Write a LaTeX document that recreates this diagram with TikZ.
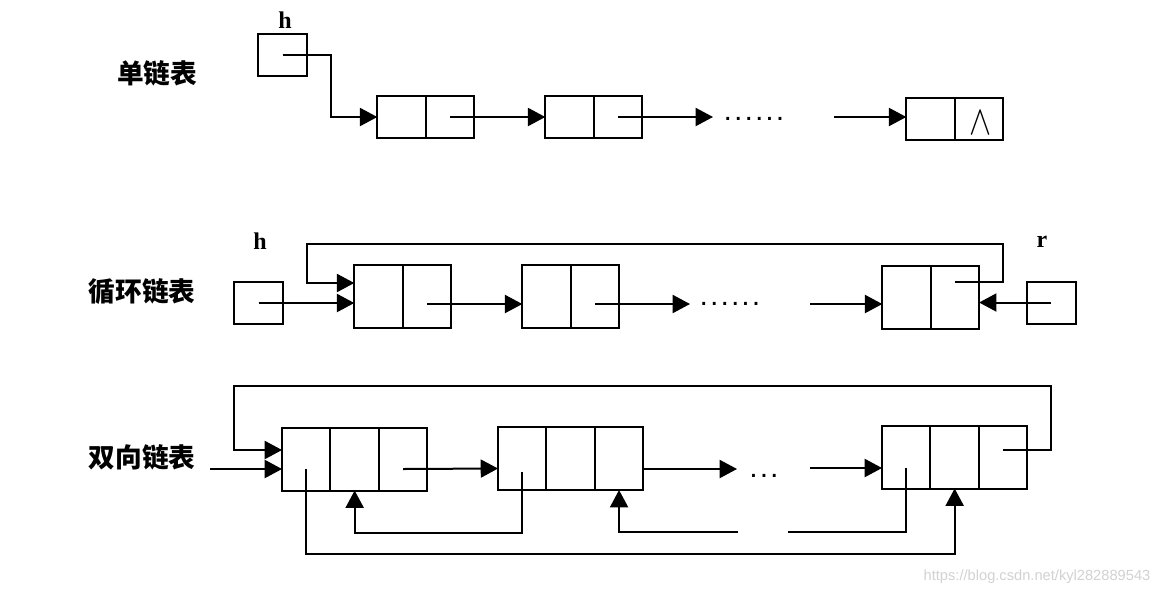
\documentclass[tikz,border=0pt]{standalone}
\usepackage{fontspec}
\newfontfamily\cjk{Noto Sans CJK SC}
\newfontfamily\namefont{Liberation Serif}
\newfontfamily\dotfont{DejaVu Sans Mono}
\newfontfamily\wmfont{Liberation Sans}
\usetikzlibrary{positioning,calc,arrows.meta}

\tikzset{every picture/.style={line width=1.5pt},
  cell/.style={draw, rectangle, inner sep=0pt, outer sep=0pt, minimum width=36.3pt, minimum height=31.5pt},
  tcell/.style={cell, minimum height=47.25pt},
  hbox/.style={cell, minimum width=36.75pt},
  ptr/.style={-{Triangle[length=13pt,width=13.5pt]}},
  title/.style={font=\cjk\bfseries\fontsize{20}{24}\selectfont, inner sep=0pt},
  ptrname/.style={font=\namefont\bfseries\fontsize{18}{20}\selectfont, inner sep=0pt},
  ellip/.style={font=\dotfont\bfseries\fontsize{13}{14}\selectfont, inner sep=0pt},
}

\begin{document}
\begin{tikzpicture}[x=0.75pt,y=0.75pt,yscale=-1,xscale=1]
\path[use as bounding box, fill=white] (0,0) rectangle (1170,594);

% Text Node
\node[title] (lbl1) at (157,73) {单链表};
\node[title] (lbl2) at (142,292) {循环链表};
\node[title] (lbl3) at (142,457) {双向链表};

%Row 1: single list
\node[ptrname] (hname1) at (285,20) {h};
\node[hbox] (h1) at (282.5,54.5) {};
\node[cell] (s1a) at (401.5,117) {};
\node[cell, right=0pt of s1a] (s1b) {};
\node[cell] (s2a) at (569.5,117) {};
\node[cell, right=0pt of s2a] (s2b) {};
\node[cell] (s3a) at (930.5,118.5) {};
\node[cell, right=0pt of s3a] (s3b) {};
\node[font=\fontsize{24.88}{26}\selectfont, inner sep=0pt] (nil) at ($(s3b.center)+(2,4)$) {\scalebox{1}[1.25]{$\wedge$}};
\node[ellip] (el1) at (754,119) {......};
\coordinate (g1a) at (713,117);
\coordinate (g1b) at (834,117);

\draw[ptr] (h1.center) -- ++(48.5,0) |- (s1a.west);
\draw[ptr] (s1b.center) -- (s2a.west);
\draw[ptr] (s2b.center) -- (g1a);
\draw[ptr] (g1b) -- (g1b -| s3a.west);

%Row 2: circular list
\node[ptrname] (hname2) at (260,241) {h};
\node[hbox] (h2) at (258.5,303) {};
\node[ptrname] (rname2) at (1042,242) {r};
\node[hbox] (r2) at (1051,302.5) {};
\node[tcell] (c1a) at (378.5,296.5) {};
\node[tcell, right=0pt of c1a] (c1b) {};
\node[tcell] (c2a) at (546.5,296.5) {};
\node[tcell, right=0pt of c2a] (c2b) {};
\node[tcell] (c3a) at (906.5,297) {};
\node[tcell, right=0pt of c3a] (c3b) {};
\node[ellip] (el2) at (730,304) {......};
\coordinate (g2a) at (690,304);
\coordinate (g2b) at (810,304);
\coordinate (top2) at (307,244);

\draw[ptr] (h2.center) -- (h2.center -| c1a.west);
\draw[ptr] ($(c1b.center)+(0,7.5)$) -- ($(c2a.west)+(0,7.5)$);
\draw[ptr] ($(c2b.center)+(0,7.5)$) -- (g2a);
\draw[ptr] (g2b) -- (g2b -| c3a.west);
\draw[ptr] (r2.center) -- (r2.center -| c3b.east);
\draw[ptr] ($(c3b.center)+(0,-15)$) -- ++(48,0) |- (top2) |- ($(c1a.west)+(0,-13.5)$);

%Row 3: double list
\node[tcell] (d1a) at (306.25,459) {};
\node[tcell, right=0pt of d1a] (d1b) {};
\node[tcell, right=0pt of d1b] (d1c) {};
\node[tcell] (d2a) at (522.25,458.5) {};
\node[tcell, right=0pt of d2a] (d2b) {};
\node[tcell, right=0pt of d2b] (d2c) {};
\node[tcell] (d3a) at (906.25,457) {};
\node[tcell, right=0pt of d3a] (d3b) {};
\node[tcell, right=0pt of d3b] (d3c) {};
\node[ellip] (el3) at (764,476) {...};
\coordinate (in3) at (210,469);
\coordinate (top3) at (234,386);
\coordinate (g3a) at (737,469);
\coordinate (g3b) at (810,468);
\coordinate (b3a) at (738,532);
\coordinate (b3b) at (788,532);

\draw[ptr] (in3) -- (in3 -| d1a.west);
\draw[ptr] ($(d3c.center)+(0,-7)$) -- ++(48,0) |- (top3) |- ($(d1a.west)+(0,-9)$);
\draw[ptr] ($(d1c.center)+(0,10)$) -- ($(d2a.west)+(0,10)$);
\draw[ptr] ($(d2c.east)+(0,10.5)$) -- (g3a);
\draw[ptr] (g3b) -- (g3b -| d3a.west);
\draw[ptr] ($(d1a.center)+(0,10)$) -- ++(0,85) -| (d3b.south);
\draw[ptr] ($(d2a.center)+(0,13)$) -- ++(0,61) -| (d1b.south);
\draw ($(d3a.center)+(0,11)$) |- (b3b);
\draw[ptr] (b3a) -| (d2c.south);

% Text Node
\node[font=\wmfont\fontsize{11}{13}\selectfont, text=gray!35, inner sep=0pt] (wm) at (1037,577) {https://blog.csdn.net/kyl282889543};
\end{tikzpicture}
\end{document}
